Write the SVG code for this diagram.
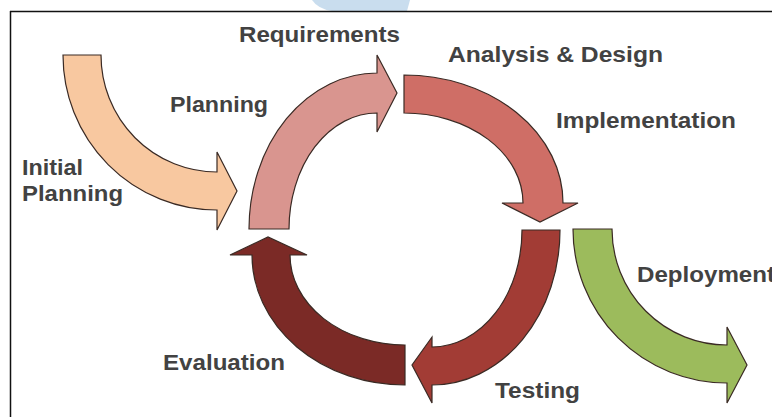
<svg xmlns="http://www.w3.org/2000/svg" width="772" height="417" viewBox="0 0 772 417">
  <style>
    .arrow { stroke: #3a2a24; stroke-width: 1.2; stroke-linejoin: miter; }
    .label { font-family: "Liberation Sans", Arial, sans-serif; font-weight: bold; font-size: 22px; fill: #424242; }
  </style>

  <!-- page background and frame -->
  <rect x="0" y="0" width="772" height="417" fill="#ffffff"/>
  <path d="M312,0 L410,0 L407,11 L332,11 Q318,9 312,0 Z" fill="#c9ddee"/>
  <line x1="10" y1="11.5" x2="772" y2="11.5" stroke="#111" stroke-width="1.5"/>
  <line x1="10.5" y1="11" x2="10.5" y2="417" stroke="#111" stroke-width="1.5"/>

  <g id="connectors">
    <!-- Initial Planning arrow -->
    <path class="arrow" fill="#f8c8a0" d="M63,55 A154 155 0 0 0 217,210 L217,230 L237,191 L217,152 L217,172 A116 117 0 0 1 101,55 Z"/>
    <!-- Planning arrow -->
    <path class="arrow" fill="#d9958f" d="M249,229 A128 156 0 0 1 377,73 L377,55 L397,93 L377,132 L377,113 A88 116 0 0 0 289,229 Z"/>
    <!-- Analysis & Design arrow -->
    <path class="arrow" fill="#cf6e66" d="M404,75 A159 128 0 0 1 563,203 L578,203 L540,222 L502,203 L523,203 A119 90 0 0 0 404,113 Z"/>
    <!-- Testing arrow -->
    <path class="arrow" fill="#a23c35" d="M560,230 A128 155 0 0 1 432,385 L432,403 L412,365 L432,337 L432,347 A90 117 0 0 0 522,230 Z"/>
    <!-- Evaluation arrow -->
    <path class="arrow" fill="#7b2a26" d="M405,385 A153 130 0 0 1 252,255 L230,255 L268,237 L307,255 L290,255 A115 90 0 0 0 405,345 Z"/>
    <!-- Deployment arrow -->
    <path class="arrow" fill="#9cbb5c" d="M573,229 A154 154 0 0 0 727,383 L727,403 L747,365 L727,327 L727,345 A115 116 0 0 1 612,229 Z"/>
  </g>

  <g id="initial-planning">
    <text class="label" x="22" y="175" textLength="61" lengthAdjust="spacingAndGlyphs">Initial</text>
    <text class="label" x="22" y="201" textLength="101" lengthAdjust="spacingAndGlyphs">Planning</text>
  </g>
  <g id="planning">
    <text class="label" x="170" y="112" textLength="98" lengthAdjust="spacingAndGlyphs">Planning</text>
  </g>
  <g id="requirements">
    <text class="label" x="239" y="42" textLength="161" lengthAdjust="spacingAndGlyphs">Requirements</text>
  </g>
  <g id="analysis-design">
    <text class="label" x="448" y="62" textLength="215" lengthAdjust="spacingAndGlyphs">Analysis &amp; Design</text>
  </g>
  <g id="implementation">
    <text class="label" x="556" y="128" textLength="180" lengthAdjust="spacingAndGlyphs">Implementation</text>
  </g>
  <g id="deployment">
    <text class="label" x="637" y="282" textLength="138" lengthAdjust="spacingAndGlyphs">Deployment</text>
  </g>
  <g id="testing">
    <text class="label" x="495" y="398" textLength="85" lengthAdjust="spacingAndGlyphs">Testing</text>
  </g>
  <g id="evaluation">
    <text class="label" x="163" y="370" textLength="122" lengthAdjust="spacingAndGlyphs">Evaluation</text>
  </g>
</svg>
